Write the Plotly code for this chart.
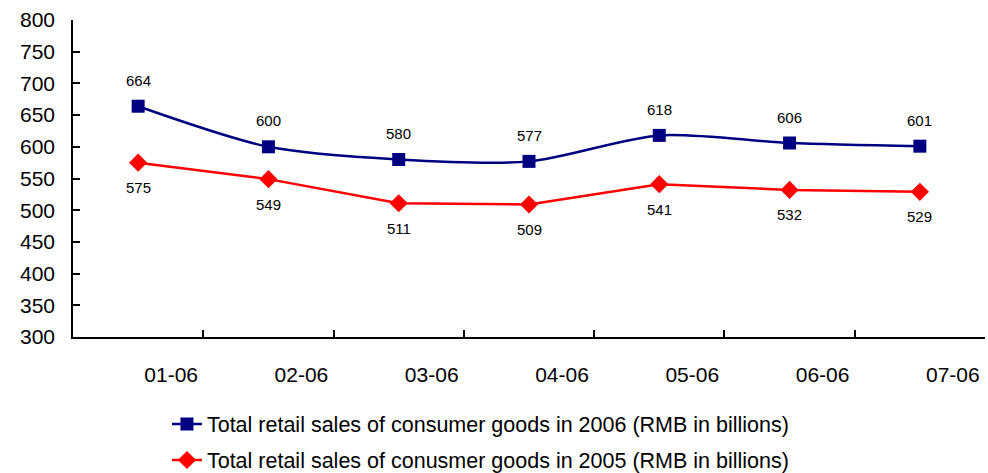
import plotly.graph_objects as go

# Monthly labels (MM-YY)
months = ["01-06", "02-06", "03-06", "04-06", "05-06", "06-06", "07-06"]

# Total retail sales of consumer goods, RMB in billions
sales_2006 = [664, 600, 580, 577, 618, 606, 601]
sales_2005 = [575, 549, 511, 509, 541, 532, 529]

name_2006 = "Total retail sales of consumer goods in 2006 (RMB in billions)"
name_2005 = "Total retail sales of conusmer goods in 2005 (RMB in billions)"

NAVY = "#000080"
RED = "#FF0000"
FONT = "Liberation Sans, Arial, sans-serif"

fig = go.Figure()

fig.add_trace(go.Scatter(
    x=months, y=sales_2006, name=name_2006, legendgroup="a",
    mode="lines+markers",
    line=dict(color=NAVY, width=2.5, shape="spline", smoothing=0.8),
    marker=dict(symbol="square", size=13, color=NAVY),
))
fig.add_trace(go.Scatter(
    x=months, y=sales_2005, name=name_2005, legendgroup="b",
    mode="lines+markers",
    line=dict(color=RED, width=2.5),
    marker=dict(symbol="diamond", size=14, color=RED),
))

# Value labels: 2006 above its points, 2005 below
for m, v in zip(months, sales_2006):
    fig.add_annotation(x=m, y=v, text=str(v), showarrow=False, yshift=26,
                       font=dict(family=FONT, size=15, color="#000000"))
for m, v in zip(months, sales_2005):
    fig.add_annotation(x=m, y=v, text=str(v), showarrow=False, yshift=-25,
                       font=dict(family=FONT, size=15, color="#000000"))

fig.update_layout(
    width=988, height=473,
    margin=dict(l=73, r=3, t=20, b=136, autoexpand=False),
    paper_bgcolor="white", plot_bgcolor="white",
    font=dict(family=FONT, color="#000000"),
    showlegend=True,
    legend=dict(
        orientation="v", x=0.103, xanchor="left", y=-0.21, yanchor="top",
        font=dict(family=FONT, size=21.5, color="#000000"),
        tracegroupgap=5, traceorder="grouped",
        bgcolor="rgba(0,0,0,0)",
    ),
)

fig.update_xaxes(
    type="category", range=[-0.5, 6.5],
    showline=True, linecolor="#000000", linewidth=1.5,
    ticks="inside", ticklen=7, tickcolor="#000000", tickwidth=1.5,
    tickson="boundaries", ticklabelshift=33, ticklabelstandoff=18,
    tickfont=dict(family=FONT, size=21, color="#000000"),
    showgrid=False, zeroline=False,
)
fig.update_yaxes(
    range=[300, 800], dtick=50, tick0=300,
    showline=True, linecolor="#000000", linewidth=1.5,
    ticks="inside", ticklen=7, tickcolor="#000000", tickwidth=1.5,
    ticklabelstandoff=12,
    tickfont=dict(family=FONT, size=21, color="#000000"),
    showgrid=False, zeroline=False,
)

fig.write_html("out.html")
